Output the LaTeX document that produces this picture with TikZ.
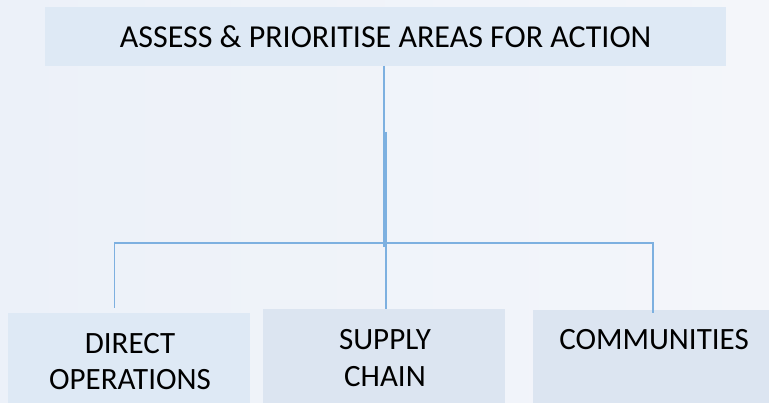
\documentclass[tikz,border=0pt]{standalone}
\usepackage{fontspec}
\setmainfont{Carlito}
\definecolor{bgL}{HTML}{ECF1F9}
\definecolor{bgR}{HTML}{F4F6FA}
\definecolor{boxA}{HTML}{DEE9F5}
\definecolor{boxB}{HTML}{DCE5F1}
\definecolor{linkc}{HTML}{7DB0E0}
\tikzset{
  boxshape/.style={draw=none, inner sep=0pt, anchor=north west},
  lbl/.style={inner sep=0pt, anchor=base, text=black, font=\fontsize{31}{37}\selectfont},
  toplbl/.style={inner sep=0pt, text=black, font=\fontsize{32}{38}\selectfont},
  link/.style={draw=linkc, line width=1.6pt}
}
\begin{document}
\begin{tikzpicture}[x=1pt,y=-1pt]
\useasboundingbox (0,0) rectangle (769,403);
\shade[left color=bgL, right color=bgR] (0,0) rectangle (769,403);
% boxes
\node[boxshape, fill=boxA, minimum width=681pt, minimum height=58.5pt] (topbox) at (45,7) {};
\node[boxshape, fill=boxA, minimum width=242pt, minimum height=90pt] (dobox) at (8,313) {};
\node[boxshape, fill=boxB, minimum width=242pt, minimum height=94pt] (scbox) at (263,309) {};
\node[boxshape, fill=boxB, minimum width=236pt, minimum height=93pt] (cmbox) at (533,310) {};
% texts
\node[toplbl] (toptxt) at (topbox.center) {ASSESS \& PRIORITISE AREAS FOR ACTION};
\node[lbl] (do1) at (130,353.3) {DIRECT};
\node[lbl] (do2) at (130,390) {OPERATIONS};
\node[lbl] (sc1) at (385,349.3) {SUPPLY};
\node[lbl] (sc2) at (385,386.7) {CHAIN};
\node[lbl] (cm1) at (654,350) {COMMUNITIES};
% connectors
\coordinate (hubA) at (384,247);
\coordinate (hubB) at (386,132);
\coordinate (barL) at (114.5,243);
\coordinate (barR) at (652.7,243);
\draw[link] (topbox.south -| hubA) -- (hubA);
\draw[link] (hubB) -- (hubB |- scbox.north);
\draw[link] (barL |- dobox.north) ++(0,-5) -- (barL) -- (barR) -- ([yshift=-3pt]barR |- cmbox.north);
\end{tikzpicture}
\end{document}
